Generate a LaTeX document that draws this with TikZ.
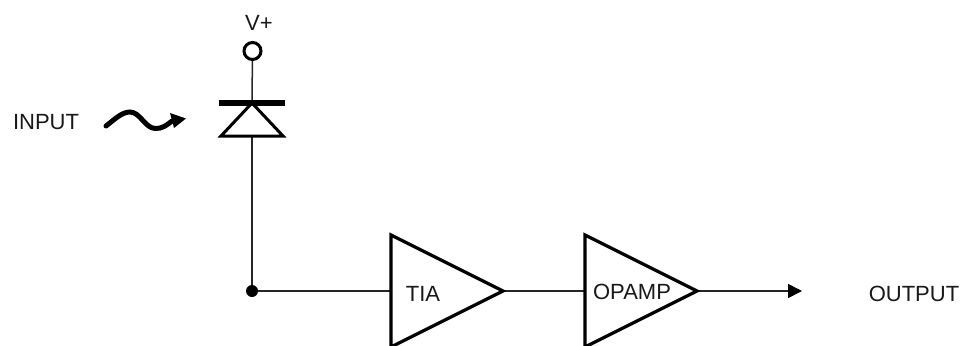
\documentclass[tikz,border=0pt]{standalone}
\usepackage{fontspec}
\setmainfont{Liberation Sans}
\usetikzlibrary{arrows.meta}
\tikzset{
  wire/.style={draw=black!85,line width=1.5pt},
  heavy/.style={draw=black,line width=3pt,line join=miter},
  lbl/.style={font=\fontsize{22}{24}\selectfont,text=black!90,inner sep=0pt,anchor=center},
  tip/.style={-{Triangle[length=14pt,width=14pt,color=black]}}
}
\begin{document}
\begin{tikzpicture}[x=1pt,y=-1pt]
\useasboundingbox (0,0) rectangle (965,345);
\clip (0,0) rectangle (965,345);
\fill[white] (0,0) rectangle (965,345);
% coordinates
\coordinate (anode) at (252,103);
\coordinate (diodebase) at (252,136);
\coordinate (junction) at (252,291);
\coordinate (tiaL) at (391,291);
\coordinate (tiaR) at (503,291);
\coordinate (opL) at (585,291);
\coordinate (opR) at (697,291);
\coordinate (outend) at (802,291);
% supply terminal
\node[circle,draw=black,line width=3pt,minimum size=17pt,inner sep=0pt] (vcc) at (252.5,51) {};
\node[lbl] (vplus) at (259,23) {V+};
% wires
\draw[wire] (vcc) -- (anode);
\draw[wire] (diodebase) -- (junction) -- (tiaL);
\draw[wire] (tiaR) -- (opL);
\draw[wire,tip] (opR) -- (outend);
% diode
\draw[black,line width=5.5pt] (219,103) -- (285,103);
\draw[heavy] (anode) -- (283,136) -- (221,136) -- cycle;
% junction
\node[circle,fill=black,minimum size=12pt,inner sep=0pt] (dot) at (junction) {};
% amplifiers
\draw[heavy,line width=3.2pt] (391,235) -- (tiaR) -- (391,347) -- cycle;
\draw[heavy,line width=3.2pt] (585,235) -- (opR) -- (585,347) -- cycle;
\node[lbl] (tia) at (423,294) {TIA};
\node[lbl] (opamp) at (632,292) {OPAMP};
% labels
\node[lbl] (input) at (46,122) {INPUT};
\node[lbl] (output) at (914,294) {OUTPUT};
% light wave
\coordinate (w0) at (106,126);
\coordinate (w1) at (130,112);
\coordinate (w2) at (155,128.5);
\coordinate (w3) at (172,121);
\draw[black,line width=5pt,line cap=round] (w0) .. controls (115,119) and (122,112) .. (w1)
  .. controls (140,112) and (145,128) .. (w2) .. controls (162,129) and (167,125) .. (w3);
\fill[black] (186,118.5) -- (170,113) -- (174,128) -- cycle;
\end{tikzpicture}
\end{document}
